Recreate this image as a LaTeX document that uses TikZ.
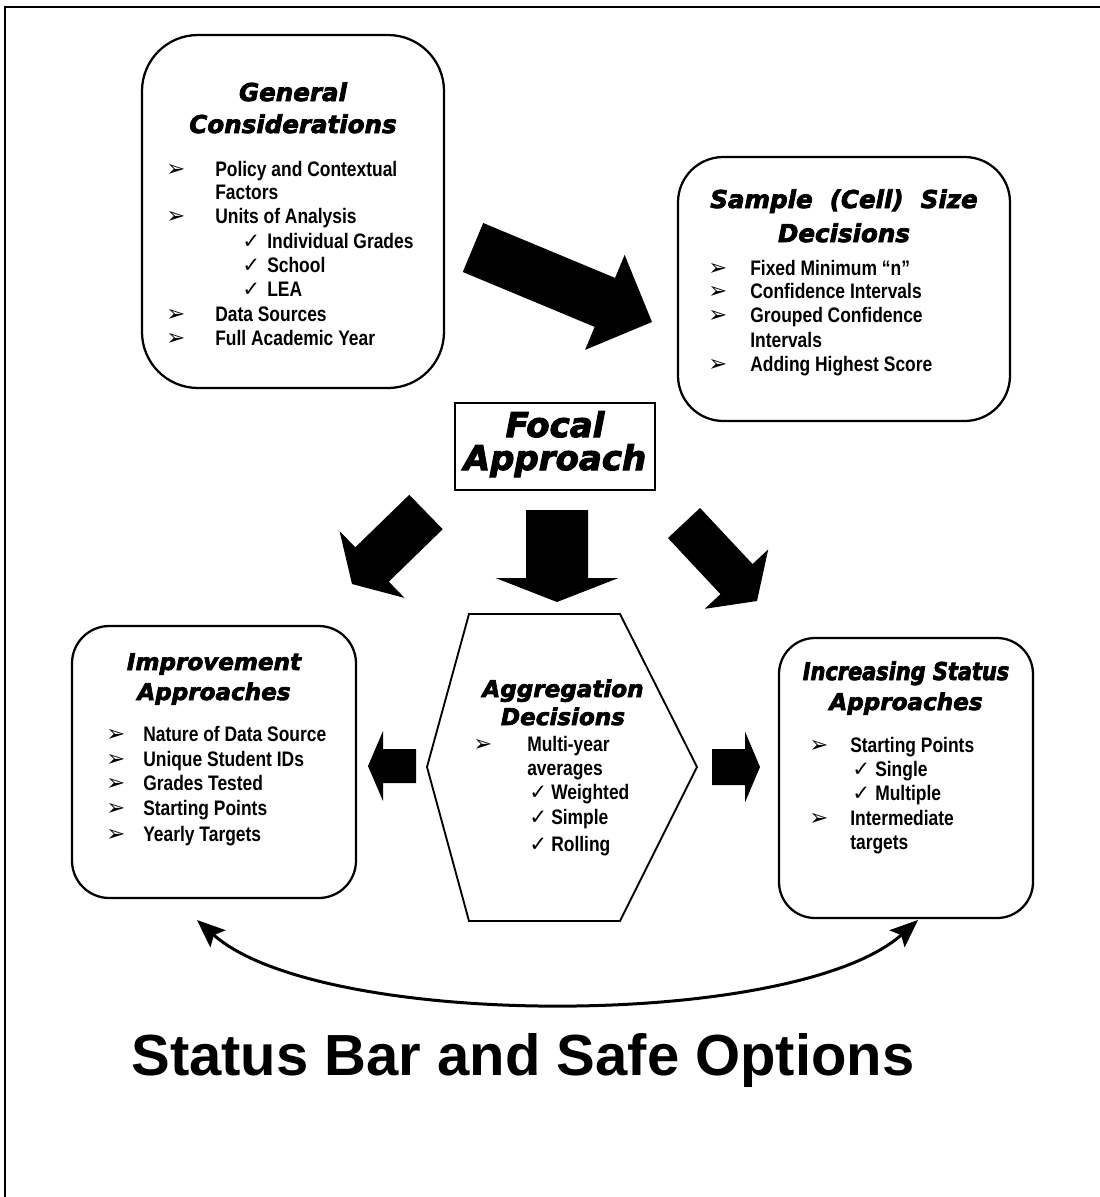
\documentclass[tikz,border=0pt]{standalone}
\usepackage{fontspec}
\setmainfont{Liberation Sans}
\newfontfamily\itemfamily{Liberation Sans}[FakeStretch=0.83]
\newfontfamily\headfamily{DejaVu Sans}[BoldItalicFeatures={FakeBold=3}]
\newfontfamily\headnarrowfamily{DejaVu Sans}[FakeStretch=0.85, BoldItalicFeatures={FakeBold=3}]
\newfontfamily\symfamily{DejaVu Sans}
\usetikzlibrary{arrows.meta,calc,fit}

% Filled block arrow: #1 tail, #2 tip, #3 half shaft width, #4 half head width, #5 head length
\newcommand{\fatarrow}[5]{%
  \coordinate (#1-hb) at ($(#2)!#5!(#1)$);
  \fill ($(#1)!#3!90:(#2)$) -- ($(#1-hb)!#3!90:(#2)$) -- ($(#1-hb)!#4!90:(#2)$)
     -- (#2) -- ($(#1-hb)!#4!-90:(#2)$) -- ($(#1-hb)!#3!-90:(#2)$)
     -- ($(#1)!#3!-90:(#2)$) -- cycle;}

\tikzset{
  panel/.style={draw, line width=1.7pt, inner sep=0pt},
  itemtext/.style={anchor=base west, inner sep=0pt,
    font=\itemfamily\bfseries\fontsize{15.75}{18}\selectfont},
  arrowbul/.style={anchor=base west, inner sep=0pt,
    font=\symfamily\fontsize{17}{17}\selectfont},
  checkbul/.style={anchor=base west, inner sep=0pt,
    font=\symfamily\bfseries\fontsize{16}{16}\selectfont},
  headtext/.style={anchor=base, inner sep=0pt,
    font=\headfamily\bfseries\itshape\fontsize{18.4}{22}\selectfont},
  headsmall/.style={headtext,
    font=\headfamily\bfseries\itshape\fontsize{17.3}{22}\selectfont},
  headnarrow/.style={headtext,
    font=\headnarrowfamily\bfseries\itshape\fontsize{18.4}{22}\selectfont},
  headlarge/.style={headtext,
    font=\headfamily\bfseries\itshape\fontsize{25.5}{28}\selectfont},
}

\begin{document}
\begin{tikzpicture}[x=0.75pt, y=-0.75pt]
\useasboundingbox (0,0) rectangle (1100,1197);

% page frame (top and left rules)
\draw[line width=1.5pt] (1100,7) -- (5,7) -- (5,1197);

% ---------- General Considerations ----------
\node[panel, rounded corners=42pt, fit={(142,35) (444,388)}] (gc) {};
\node[headtext] (gc-h1) at (293,101) {General};
\node[headtext] (gc-h2) at (293,133) {Considerations};
\node[arrowbul] (gc-b1) at (166,176) {➢};
\node[itemtext] (gc-t1) at (215,176) {Policy and Contextual};
\node[itemtext] (gc-t2) at (215,199) {Factors};
\node[arrowbul] (gc-b3) at (166,223) {➢};
\node[itemtext] (gc-t3) at (215,223) {Units of Analysis};
\node[checkbul] (gc-c4) at (242,248) {✓};
\node[itemtext] (gc-t4) at (267,248) {Individual Grades};
\node[checkbul] (gc-c5) at (242,272) {✓};
\node[itemtext] (gc-t5) at (267,272) {School};
\node[checkbul] (gc-c6) at (242,296) {✓};
\node[itemtext] (gc-t6) at (267,296) {LEA};
\node[arrowbul] (gc-b7) at (166,321) {➢};
\node[itemtext] (gc-t7) at (215,321) {Data Sources};
\node[arrowbul] (gc-b8) at (166,345) {➢};
\node[itemtext] (gc-t8) at (215,345) {Full Academic Year};

% ---------- Sample (Cell) Size Decisions ----------
\node[panel, rounded corners=34pt, fit={(678,157) (1010,421)}] (ss) {};
\node[headtext] (ss-h1) at (844,208) {Sample\ \ (Cell)\ \ Size};
\node[headtext] (ss-h2) at (844,242) {Decisions};
\node[arrowbul] (ss-b1) at (708,275) {➢};
\node[itemtext] (ss-t1) at (750,275) {Fixed Minimum “n”};
\node[arrowbul] (ss-b2) at (708,298) {➢};
\node[itemtext] (ss-t2) at (750,298) {Confidence Intervals};
\node[arrowbul] (ss-b3) at (708,322) {➢};
\node[itemtext] (ss-t3) at (750,322) {Grouped Confidence};
\node[itemtext] (ss-t4) at (750,347) {Intervals};
\node[arrowbul] (ss-b5) at (708,371) {➢};
\node[itemtext] (ss-t5) at (750,371) {Adding Highest Score};

% ---------- Focal Approach ----------
\node[draw, line width=1.4pt, inner sep=0pt, fit={(455,403) (655,490)}] (fa) {};
\node[headlarge] (fa-h1) at (555,437) {Focal};
\node[headlarge] (fa-h2) at (555,470) {Approach};

% ---------- Aggregation Decisions (hexagon) ----------
\coordinate (hx1) at (469,614);
\coordinate (hx2) at (620,614);
\coordinate (hx3) at (697,767);
\coordinate (hx4) at (620,921);
\coordinate (hx5) at (469,921);
\coordinate (hx6) at (427,767);
\draw[line width=1.4pt, line join=miter] (hx1) -- (hx2) -- (hx3) -- (hx4) -- (hx5) -- (hx6) -- cycle;
\node[headsmall] (ad-h1) at (563,697) {Aggregation};
\node[headsmall] (ad-h2) at (563,725) {Decisions};
\node[arrowbul] (ad-b1) at (473,751) {➢};
\node[itemtext] (ad-t1) at (527,751) {Multi-year};
\node[itemtext] (ad-t2) at (527,775) {averages};
\node[checkbul] (ad-c3) at (529,799) {✓};
\node[itemtext] (ad-t3) at (551,799) {Weighted};
\node[checkbul] (ad-c4) at (529,824) {✓};
\node[itemtext] (ad-t4) at (551,824) {Simple};
\node[checkbul] (ad-c5) at (529,851) {✓};
\node[itemtext] (ad-t5) at (551,851) {Rolling};

% ---------- Improvement Approaches ----------
\node[panel, rounded corners=28pt, fit={(72,626) (356,898)}] (ia) {};
\node[headsmall] (ia-h1) at (214,670) {Improvement};
\node[headsmall] (ia-h2) at (214,700) {Approaches};
\node[arrowbul] (ia-b1) at (106,741) {➢};
\node[itemtext] (ia-t1) at (143,741) {Nature of Data Source};
\node[arrowbul] (ia-b2) at (106,766) {➢};
\node[itemtext] (ia-t2) at (143,766) {Unique Student IDs};
\node[arrowbul] (ia-b3) at (106,790) {➢};
\node[itemtext] (ia-t3) at (143,790) {Grades Tested};
\node[arrowbul] (ia-b4) at (106,815) {➢};
\node[itemtext] (ia-t4) at (143,815) {Starting Points};
\node[arrowbul] (ia-b5) at (106,841) {➢};
\node[itemtext] (ia-t5) at (143,841) {Yearly Targets};

% ---------- Increasing Status Approaches ----------
\node[panel, rounded corners=27pt, fit={(779,638) (1033,918)}] (is) {};
\node[headnarrow] (is-h1) at (906,680) {Increasing Status};
\node[headsmall] (is-h2) at (906,710) {Approaches};
\node[arrowbul] (is-b1) at (809,752) {➢};
\node[itemtext] (is-t1) at (850,752) {Starting Points};
\node[checkbul] (is-c2) at (852,776) {✓};
\node[itemtext] (is-t2) at (875,776) {Single};
\node[checkbul] (is-c3) at (852,800) {✓};
\node[itemtext] (is-t3) at (875,800) {Multiple};
\node[arrowbul] (is-b4) at (809,825) {➢};
\node[itemtext] (is-t4) at (850,825) {Intermediate};
\node[itemtext] (is-t5) at (850,849) {targets};

% ---------- block arrows ----------
\coordinate (a1) at (473,247.5);  \coordinate (a1t) at (652,322);
\fatarrow{a1}{a1t}{19.9pt}{38.6pt}{38.3pt}
\coordinate (a2) at (426,512);    \coordinate (a2t) at (352,584);
\fatarrow{a2}{a2t}{18pt}{35pt}{21pt}
\coordinate (a3) at (557,510);    \coordinate (a3t) at (557,602);
\fatarrow{a3}{a3t}{23.25pt}{46.1pt}{18pt}
\coordinate (a4) at (684,523);    \coordinate (a4t) at (757,601);
\fatarrow{a4}{a4t}{16.5pt}{32.6pt}{22.5pt}
\coordinate (a5) at (416,766);    \coordinate (a5t) at (368,766);
\fatarrow{a5}{a5t}{12.75pt}{26.25pt}{11.25pt}
\coordinate (a6) at (712,767);    \coordinate (a6t) at (760,767);
\fatarrow{a6}{a6t}{13.5pt}{26.6pt}{11.25pt}

% ---------- curved two-way link ----------
\coordinate (lk1) at (197,920);
\coordinate (lk2) at (918,920);
\draw[line width=2.25pt,
      {Stealth[length=21pt,width=17pt,inset=4pt]}-{Stealth[length=21pt,width=17pt,inset=4pt]}]
  (lk1) .. controls (320,1030) and (795,1030) .. (lk2);

% ---------- caption ----------
\node[anchor=base, inner sep=0pt, font=\bfseries\fontsize{43.5}{48}\selectfont] (cap) at (523,1075)
  {Status Bar and Safe Options};
\end{tikzpicture}
\end{document}
